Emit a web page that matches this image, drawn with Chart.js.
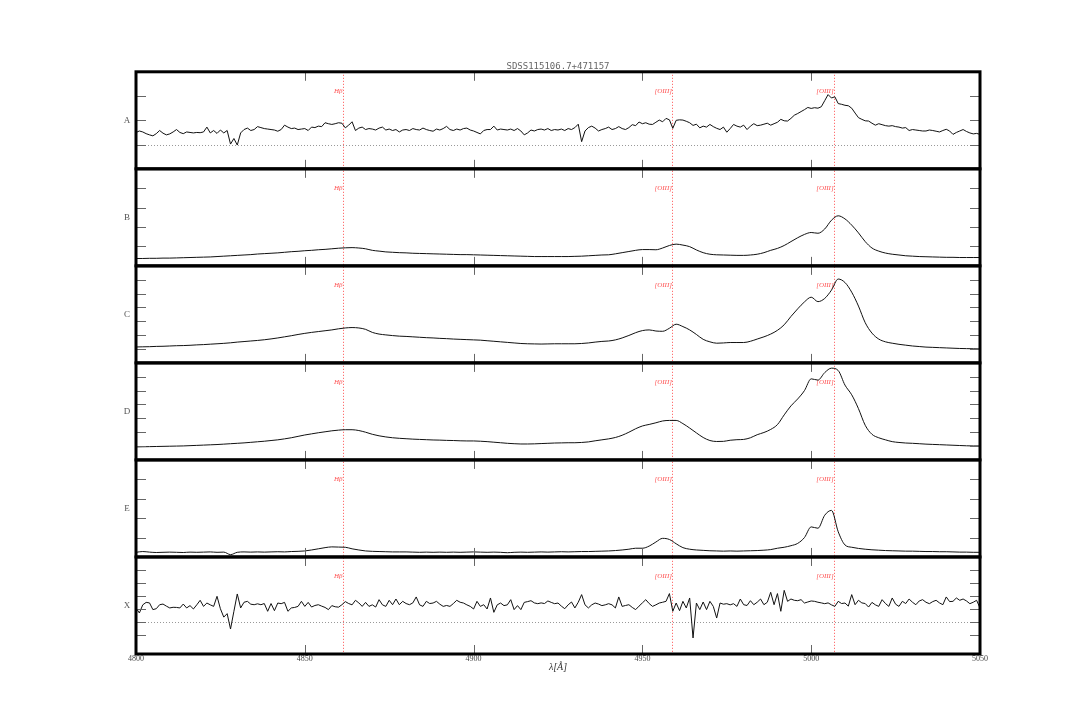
<!DOCTYPE html>
<html>
<head>
<meta charset="utf-8">
<script src="https://cdn.jsdelivr.net/npm/chart.js@4"></script>
<style>
  html, body { margin: 0; padding: 0; background: #fff; }
</style>
</head>
<body>
<canvas id="spec" width="1090" height="727"></canvas>
<script>
// wavelength grids (Angstrom)
const waveFine = [
  4800,4801,4802,4803,4804,4805,4806,4807,4808,4809,
  4810,4811,4812,4813,4814,4815,4816,4817,4818,4819,
  4820,4821,4822,4823,4824,4825,4826,4827,4828,4829,
  4830,4831,4832,4833,4834,4835,4836,4837,4838,4839,
  4840,4841,4842,4843,4844,4845,4846,4847,4848,4849,
  4850,4851,4852,4853,4854,4855,4856,4857,4858,4859,
  4860,4861,4862,4863,4864,4865,4866,4867,4868,4869,
  4870,4871,4872,4873,4874,4875,4876,4877,4878,4879,
  4880,4881,4882,4883,4884,4885,4886,4887,4888,4889,
  4890,4891,4892,4893,4894,4895,4896,4897,4898,4899,
  4900,4901,4902,4903,4904,4905,4906,4907,4908,4909,
  4910,4911,4912,4913,4914,4915,4916,4917,4918,4919,
  4920,4921,4922,4923,4924,4925,4926,4927,4928,4929,
  4930,4931,4932,4933,4934,4935,4936,4937,4938,4939,
  4940,4941,4942,4943,4944,4945,4946,4947,4948,4949,
  4950,4951,4952,4953,4954,4955,4956,4957,4958,4959,
  4960,4961,4962,4963,4964,4965,4966,4967,4968,4969,
  4970,4971,4972,4973,4974,4975,4976,4977,4978,4979,
  4980,4981,4982,4983,4984,4985,4986,4987,4988,4989,
  4990,4991,4992,4993,4994,4995,4996,4997,4998,4999,
  5000,5001,5002,5003,5004,5005,5006,5007,5008,5009,
  5010,5011,5012,5013,5014,5015,5016,5017,5018,5019,
  5020,5021,5022,5023,5024,5025,5026,5027,5028,5029,
  5030,5031,5032,5033,5034,5035,5036,5037,5038,5039,
  5040,5041,5042,5043,5044,5045,5046,5047,5048,5049,
  5050
];
const waveCoarse = [
  4800,4802,4804,4806,4808, 4810,4812,4814,4816,4818,
  4820,4822,4824,4826,4828, 4830,4832,4834,4836,4838,
  4840,4842,4844,4846,4848, 4850,4852,4854,4856,4858,
  4860,4862,4864,4866,4868, 4870,4872,4874,4876,4878,
  4880,4882,4884,4886,4888, 4890,4892,4894,4896,4898,
  4900,4902,4904,4906,4908, 4910,4912,4914,4916,4918,
  4920,4922,4924,4926,4928, 4930,4932,4934,4936,4938,
  4940,4942,4944,4946,4948, 4950,4952,4954,4956,4958,
  4960,4962,4964,4966,4968, 4970,4972,4974,4976,4978,
  4980,4982,4984,4986,4988, 4990,4992,4994,4996,4998,
  5000,5002,5004,5006,5008, 5010,5012,5014,5016,5018,
  5020,5022,5024,5026,5028, 5030,5032,5034,5036,5038,
  5040,5042,5044,5046,5048, 5050
];

// panel A: observed spectrum (fine grid)
const fluxA = [
  0.50,0.56,0.52,0.45,0.40,0.36,0.45,0.58,0.47,0.40,
  0.44,0.52,0.62,0.50,0.45,0.52,0.50,0.48,0.50,0.49,
  0.52,0.72,0.48,0.58,0.46,0.60,0.48,0.58,0.02,0.25,
  -0.02,0.48,0.62,0.68,0.58,0.62,0.74,0.70,0.66,0.64,
  0.62,0.60,0.55,0.62,0.80,0.72,0.66,0.68,0.62,0.64,
  0.66,0.58,0.72,0.70,0.76,0.74,0.90,0.86,0.83,0.86,
  0.90,0.88,0.69,0.80,0.94,0.58,0.68,0.72,0.62,0.66,
  0.64,0.60,0.68,0.72,0.60,0.64,0.58,0.62,0.52,0.60,
  0.62,0.58,0.66,0.62,0.60,0.68,0.62,0.58,0.55,0.64,
  0.60,0.66,0.75,0.62,0.58,0.64,0.60,0.66,0.68,0.60,
  0.56,0.50,0.44,0.58,0.62,0.62,0.76,0.60,0.64,0.62,
  0.60,0.64,0.58,0.66,0.56,0.40,0.48,0.60,0.56,0.62,
  0.64,0.60,0.66,0.58,0.62,0.60,0.64,0.58,0.66,0.62,
  0.70,0.84,0.12,0.56,0.70,0.76,0.68,0.56,0.62,0.66,
  0.72,0.62,0.66,0.74,0.66,0.62,0.70,0.82,0.78,0.93,
  0.86,0.90,0.84,0.83,0.92,1.01,0.94,1.08,1.02,0.67,
  1.00,1.02,1.01,0.96,0.90,0.79,0.84,0.69,0.76,0.72,
  0.83,0.74,0.67,0.62,0.72,0.51,0.66,0.83,0.76,0.72,
  0.80,0.62,0.76,0.86,0.78,0.80,0.84,0.88,0.80,0.86,
  0.92,1.04,0.98,0.97,1.08,1.21,1.28,1.36,1.44,1.53,
  1.49,1.52,1.50,1.56,1.81,2.06,1.92,1.97,1.69,1.66,
  1.62,1.60,1.50,1.30,1.11,1.04,0.98,0.97,0.88,0.80,
  0.86,0.82,0.78,0.76,0.78,0.74,0.72,0.68,0.70,0.58,
  0.62,0.60,0.58,0.56,0.56,0.60,0.58,0.55,0.52,0.58,
  0.63,0.56,0.42,0.50,0.56,0.62,0.54,0.48,0.44,0.46,
  0.42
];

// panels B-E: model components (coarse grid)
const fluxB = [
  0.38,0.38,0.39,0.39,0.40, 0.40,0.41,0.42,0.43,0.44,
  0.45,0.46,0.48,0.50,0.52, 0.54,0.56,0.58,0.61,0.63,
  0.65,0.67,0.70,0.73,0.75, 0.78,0.80,0.83,0.85,0.88,
  0.91,0.93,0.94,0.92,0.88, 0.80,0.76,0.72,0.70,0.68,
  0.67,0.65,0.64,0.63,0.62, 0.61,0.60,0.59,0.58,0.58,
  0.57,0.56,0.55,0.54,0.53, 0.52,0.51,0.50,0.49,0.48,
  0.48,0.48,0.48,0.48,0.48, 0.49,0.50,0.52,0.54,0.56,
  0.57,0.62,0.68,0.74,0.80, 0.84,0.84,0.83,0.92,1.05,
  1.12,1.07,0.99,0.82,0.68, 0.60,0.57,0.56,0.55,0.54,
  0.54,0.56,0.60,0.68,0.80, 0.90,1.05,1.25,1.45,1.62,
  1.72,1.68,1.90,2.35,2.58, 2.42,2.10,1.70,1.25,0.92,
  0.76,0.66,0.60,0.56,0.52, 0.50,0.48,0.47,0.46,0.45,
  0.44,0.44,0.43,0.43,0.43, 0.43
];
const fluxC = [
  1.15,1.16,1.17,1.19,1.20, 1.22,1.24,1.25,1.27,1.30,
  1.32,1.35,1.38,1.41,1.45, 1.50,1.54,1.58,1.62,1.67,
  1.73,1.80,1.88,1.96,2.05, 2.13,2.20,2.26,2.32,2.38,
  2.46,2.52,2.55,2.52,2.42, 2.20,2.08,2.02,1.97,1.93,
  1.91,1.88,1.85,1.82,1.80, 1.77,1.75,1.72,1.70,1.68,
  1.66,1.64,1.60,1.56,1.52, 1.48,1.44,1.40,1.38,1.37,
  1.36,1.37,1.38,1.38,1.38, 1.38,1.40,1.44,1.50,1.55,
  1.58,1.66,1.80,1.98,2.18, 2.33,2.38,2.30,2.28,2.50,
  2.79,2.62,2.38,2.05,1.70, 1.52,1.42,1.44,1.47,1.47,
  1.47,1.56,1.72,1.88,2.08, 2.35,2.75,3.35,3.90,4.40,
  4.74,4.42,4.65,5.25,6.05, 5.80,5.10,4.10,2.90,2.15,
  1.72,1.52,1.42,1.34,1.28, 1.22,1.18,1.14,1.12,1.10,
  1.08,1.06,1.04,1.03,1.02, 1.01
];
const fluxD = [
  0.94,0.95,0.96,0.97,0.98, 0.99,1.00,1.01,1.03,1.05,
  1.07,1.09,1.11,1.14,1.17, 1.20,1.23,1.27,1.31,1.35,
  1.40,1.45,1.52,1.60,1.70, 1.80,1.88,1.96,2.03,2.10,
  2.15,2.18,2.18,2.12,2.00, 1.85,1.74,1.66,1.60,1.56,
  1.53,1.50,1.48,1.46,1.44, 1.43,1.41,1.40,1.38,1.37,
  1.37,1.35,1.32,1.28,1.24, 1.20,1.17,1.15,1.15,1.16,
  1.18,1.20,1.22,1.23,1.24, 1.24,1.26,1.30,1.38,1.45,
  1.52,1.62,1.78,2.00,2.25, 2.45,2.56,2.68,2.81,2.85,
  2.85,2.62,2.30,1.95,1.62, 1.40,1.33,1.34,1.42,1.46,
  1.48,1.60,1.82,1.98,2.20, 2.55,3.25,3.90,4.40,5.00,
  5.85,5.76,6.30,6.62,6.45, 5.40,4.70,3.70,2.50,1.85,
  1.60,1.45,1.32,1.26,1.22, 1.20,1.17,1.14,1.12,1.10,
  1.08,1.06,1.04,1.02,1.01, 1.01
];
const fluxE = [
  0.24,0.28,0.25,0.23,0.24, 0.25,0.24,0.23,0.25,0.24,
  0.25,0.26,0.24,0.25,0.12, 0.24,0.26,0.25,0.26,0.25,
  0.26,0.27,0.26,0.28,0.29, 0.31,0.36,0.42,0.48,0.52,
  0.51,0.50,0.42,0.36,0.31, 0.29,0.28,0.27,0.26,0.26,
  0.26,0.25,0.24,0.25,0.24, 0.25,0.24,0.25,0.24,0.25,
  0.26,0.25,0.24,0.25,0.24, 0.22,0.24,0.25,0.24,0.25,
  0.26,0.25,0.26,0.27,0.26, 0.27,0.28,0.28,0.29,0.30,
  0.31,0.33,0.36,0.40,0.45, 0.45,0.56,0.77,0.96,0.90,
  0.68,0.48,0.40,0.36,0.34, 0.32,0.31,0.30,0.31,0.30,
  0.31,0.32,0.33,0.35,0.38, 0.45,0.50,0.58,0.70,1.00,
  1.55,1.48,2.15,2.40,1.30, 0.62,0.50,0.44,0.40,0.37,
  0.35,0.33,0.32,0.31,0.30, 0.30,0.29,0.28,0.28,0.27,
  0.27,0.26,0.25,0.25,0.24, 0.24
];

// panel X: residual (fine grid)
const fluxX = [
  1.06,0.67,1.30,1.49,1.45,0.93,1.00,1.31,1.36,1.20,
  1.06,1.11,1.10,1.06,1.36,1.06,1.24,0.98,1.30,1.65,
  1.18,1.44,1.30,1.18,1.96,1.00,0.35,0.62,-0.57,0.80,
  2.14,1.06,1.50,1.57,1.35,1.31,1.38,1.31,1.40,0.80,
  1.40,0.85,1.44,1.39,1.49,0.80,1.06,1.10,1.18,1.57,
  1.18,1.49,1.13,1.25,1.31,1.20,1.10,0.93,1.24,1.15,
  1.12,1.31,1.55,1.40,1.30,1.65,1.45,1.18,1.49,1.18,
  1.30,1.13,1.70,1.30,1.18,1.65,1.31,1.75,1.31,1.57,
  1.40,1.31,1.45,1.91,1.30,1.18,1.57,1.40,1.44,1.57,
  1.35,1.18,1.25,1.18,1.40,1.65,1.50,1.44,1.30,1.18,
  0.98,1.57,1.18,1.31,0.98,1.83,0.72,1.30,1.44,1.24,
  1.30,1.70,0.93,1.24,0.93,1.49,1.55,1.62,1.45,1.39,
  1.45,1.40,1.60,1.49,1.39,1.44,1.20,1.00,1.30,1.52,
  1.06,1.50,2.09,1.30,1.06,1.30,1.44,1.36,1.24,1.30,
  1.39,1.30,1.06,1.91,1.18,1.25,1.31,1.10,0.93,1.20,
  1.45,1.70,1.40,1.18,1.30,1.44,1.50,1.57,2.17,0.80,
  1.44,0.85,1.57,1.06,1.83,-1.26,1.44,0.93,1.52,0.93,
  1.57,1.18,0.28,1.44,1.35,1.39,1.30,1.39,1.18,1.75,
  1.31,1.25,1.62,1.31,1.50,1.75,1.31,1.50,2.27,1.31,
  2.17,0.80,2.42,1.57,1.75,1.65,1.62,1.70,1.44,1.52,
  1.60,1.57,1.50,1.45,1.39,1.45,1.30,1.18,1.57,1.40,
  1.44,1.20,2.09,1.31,1.65,1.45,1.40,1.13,1.49,1.30,
  1.18,1.70,1.40,1.18,1.83,1.35,1.18,1.57,1.40,1.75,
  1.50,1.31,1.60,1.70,1.50,1.39,1.55,1.65,1.45,1.31,
  1.91,1.55,1.57,1.83,1.65,1.75,1.60,1.39,1.50,1.65,
  1.06
];

const panelNames = ['A', 'B', 'C', 'D', 'E', 'X'];
const panelWave = [waveFine, waveCoarse, waveCoarse, waveCoarse, waveCoarse, waveFine];
const panelFlux = [fluxA, fluxB, fluxC, fluxD, fluxE, fluxX];
const panelMin = [-1, 0, 0, 0, 0, -2.5];
const panelMax = [3, 5, 7, 7, 5, 5];
const zeroLinePanels = ['A', 'X'];
const smoothPanels = ['B', 'C', 'D', 'E'];

// emission lines marked in every panel
const lineWaves = [4861.3, 4958.9, 5006.8];
const lineNames = ['Hβ', '[OIII]', '[OIII]'];

const scales = {
  x: {
    type: 'linear',
    position: 'bottom',
    min: 4800,
    max: 5050,
    ticks: {
      stepSize: 50,
      padding: 0,
      autoSkip: false,
      maxRotation: 0,
      color: '#444',
      font: { family: 'Liberation Serif', size: 8 },
      callback: v => String(v)
    },
    grid: { display: false, drawTicks: false },
    border: { display: false },
    title: {
      display: true,
      text: 'λ[Å]',
      color: '#333',
      font: { family: 'Liberation Serif', size: 10, style: 'italic' },
      padding: { top: 0, bottom: 5 }
    },
    afterFit: s => { s.height = 24; }
  }
};
panelNames.forEach((name, i) => {
  scales['y' + name] = {
    type: 'linear',
    position: 'left',
    stack: 'spectra',
    stackWeight: 1,
    weight: panelNames.length - i,
    min: panelMin[i],
    max: panelMax[i],
    ticks: { display: false, stepSize: 1 },
    grid: { display: false, drawTicks: false },
    border: { display: false },
    afterFit: s => { s.width = 0; }
  };
});

const datasets = panelNames.map((name, i) => ({
  label: name,
  data: panelWave[i].map((w, k) => ({ x: w, y: panelFlux[i][k] })),
  yAxisID: 'y' + name,
  borderColor: '#111',
  borderWidth: 1,
  pointRadius: 0,
  fill: false,
  cubicInterpolationMode: smoothPanels.includes(name) ? 'monotone' : 'default',
  tension: 0
}));

const panelDecor = {
  id: 'panelDecor',
  beforeDatasetsDraw(chart) {
    const { ctx, chartArea, scales } = chart;
    const xs = scales.x;
    ctx.save();
    // dotted zero level
    ctx.setLineDash([1, 2]);
    ctx.lineWidth = 1;
    ctx.strokeStyle = '#999';
    zeroLinePanels.forEach(name => {
      const y = Math.round(scales['y' + name].getPixelForValue(0)) + 0.5;
      ctx.beginPath();
      ctx.moveTo(chartArea.left, y);
      ctx.lineTo(chartArea.right, y);
      ctx.stroke();
    });
    // emission line markers
    ctx.strokeStyle = '#ff4d4d';
    lineWaves.forEach(w => {
      const x = Math.round(xs.getPixelForValue(w)) + 0.5;
      ctx.beginPath();
      ctx.moveTo(x, chartArea.top);
      ctx.lineTo(x, chartArea.bottom);
      ctx.stroke();
    });
    ctx.setLineDash([]);
    ctx.fillStyle = '#ff5050';
    ctx.font = 'italic 7px "Liberation Serif"';
    ctx.textAlign = 'right';
    ctx.textBaseline = 'middle';
    panelNames.forEach(name => {
      const ys = scales['y' + name];
      lineWaves.forEach((w, j) => {
        ctx.fillText(lineNames[j], xs.getPixelForValue(w) - 0.5, ys.top + 19);
      });
    });
    ctx.restore();
  },
  afterDatasetsDraw(chart) {
    const { ctx, chartArea, scales } = chart;
    const xs = scales.x;
    const left = chartArea.left, right = chartArea.right;
    ctx.save();
    ctx.lineWidth = 1;
    ctx.strokeStyle = '#666';
    panelNames.forEach(name => {
      const ys = scales['y' + name];
      // y ticks, inward on both sides
      ys.ticks.forEach(t => {
        const y = Math.round(ys.getPixelForValue(t.value)) + 0.5;
        if (y - ys.top < 3 || ys.bottom - y < 3) return;
        ctx.beginPath();
        ctx.moveTo(left, y); ctx.lineTo(left + 10, y);
        ctx.moveTo(right - 10, y); ctx.lineTo(right, y);
        ctx.stroke();
      });
      // x ticks, inward at top and bottom
      xs.ticks.forEach(t => {
        if (t.value <= xs.min || t.value >= xs.max) return;
        const x = Math.round(xs.getPixelForValue(t.value)) + 0.5;
        ctx.beginPath();
        ctx.moveTo(x, ys.top); ctx.lineTo(x, ys.top + 9);
        ctx.moveTo(x, ys.bottom - 9); ctx.lineTo(x, ys.bottom);
        ctx.stroke();
      });
    });
    // panel frames
    ctx.lineWidth = 3;
    ctx.strokeStyle = '#000';
    panelNames.forEach(name => {
      const ys = scales['y' + name];
      ctx.strokeRect(left, ys.top, right - left, ys.bottom - ys.top);
    });
    // panel names
    ctx.fillStyle = '#555';
    ctx.font = '9px "Liberation Serif"';
    ctx.textAlign = 'center';
    ctx.textBaseline = 'middle';
    panelNames.forEach(name => {
      const ys = scales['y' + name];
      ctx.fillText(name, left - 9, (ys.top + ys.bottom) / 2);
    });
    ctx.restore();
  }
};

new Chart(document.getElementById('spec'), {
  type: 'line',
  data: { datasets: datasets },
  options: {
    responsive: false,
    animation: false,
    layout: { padding: { left: 136, right: 110, top: 61, bottom: 49 } },
    scales: scales,
    plugins: {
      legend: { display: false },
      tooltip: { enabled: false },
      title: {
        display: true,
        text: 'SDSS115106.7+471157',
        color: '#666',
        font: { family: 'DejaVu Sans Mono', size: 9, weight: 'normal' },
        padding: { top: 0, bottom: 0 }
      }
    }
  },
  plugins: [panelDecor]
});
</script>
</body>
</html>
